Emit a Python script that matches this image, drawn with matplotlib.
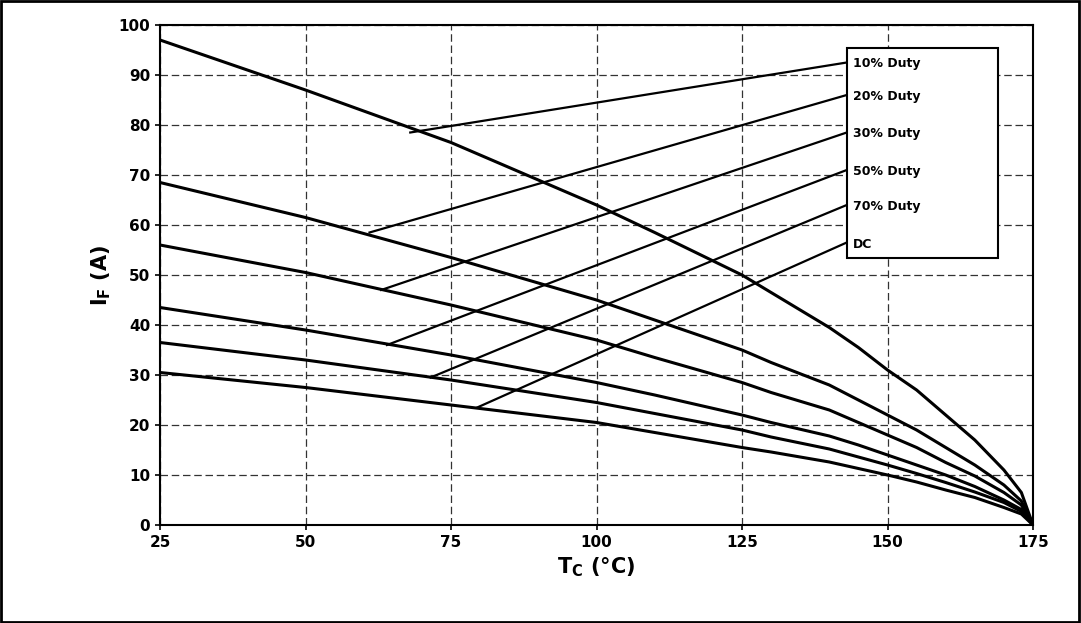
import matplotlib.pyplot as plt
from matplotlib.patches import Rectangle

# ── Data ──────────────────────────────────────────────────
tc = [25, 50, 75, 100, 110, 125, 130, 140, 145, 150, 155, 160, 165, 170, 173, 175]
duty10 = [97, 87, 76.5, 64, 58.5, 50, 46.5, 39.5, 35.5, 31, 27, 22, 17, 11, 6.5, 0]
duty20 = [68.5, 61.5, 53.5, 45, 41, 35, 32.5, 28, 25, 22, 19, 15.5, 12, 8, 4.8, 0]
duty30 = [56, 50.5, 44, 37, 33.5, 28.5, 26.5, 23, 20.5, 18, 15.5, 12.5, 9.8, 6.5, 4, 0]
duty50 = [43.5, 39, 34, 28.5, 26, 22, 20.5, 17.8, 16, 14, 12, 10, 7.7, 5, 3.1, 0]
duty70 = [36.5, 33, 29, 24.5, 22.3, 19, 17.6, 15.2, 13.6, 12, 10.3, 8.5, 6.6, 4.5, 2.7, 0]
dc = [30.5, 27.5, 24, 20.5, 18.5, 15.5, 14.6, 12.6, 11.3, 10, 8.6, 7, 5.5, 3.5, 2.2, 0]
series = [duty10, duty20, duty30, duty50, duty70, dc]
labels = ["10% Duty", "20% Duty", "30% Duty", "50% Duty", "70% Duty", "DC"]

# leader lines: start on curve, end at legend label
lead_start = [(68, 78.5), (61, 58.5), (63, 47), (64, 36), (71.5, 29.5), (79.5, 23.5)]
lead_end = [(143, 92.5), (143, 86), (143, 78.5), (143, 71), (143, 64), (143, 56.5)]

fig = plt.figure(figsize=(10.81, 6.23), dpi=100)
ax = fig.add_axes([160 / 1081, 98 / 623, 873 / 1081, 500 / 623])

for y in series:
    ax.plot(tc, y, color="black", lw=2.2)
for (x0, y0), (x1, y1) in zip(lead_start, lead_end):
    ax.plot([x0, x1], [y0, y1], color="black", lw=1.6)

ax.set_xlim(25, 175)
ax.set_ylim(0, 100)
ax.set_xticks(range(25, 176, 25))
ax.set_yticks(range(0, 101, 10))
ax.grid(True, color="#333333", ls=(0, (6, 3)), lw=0.9)
for s in ax.spines.values():
    s.set_linewidth(1.5)
ax.tick_params(labelsize=11, width=1.2)
for t in ax.get_xticklabels() + ax.get_yticklabels():
    t.set_fontweight("bold")

ax.set_xlabel(r"T$_\mathbf{C}$ (°C)", fontsize=15, fontweight="bold")
ax.set_ylabel(r"I$_\mathbf{F}$ (A)", fontsize=15, fontweight="bold")

# legend-style box
ax.add_patch(Rectangle((143, 53.5), 26, 42, transform=ax.transData,
                       facecolor="white", edgecolor="black", lw=1.5, zorder=5))
for lab, (x1, y1) in zip(labels, lead_end):
    ax.text(x1 + 1, y1 - 0.3, lab, fontsize=9, fontweight="bold", va="center",
            zorder=6)

fig.patches.append(Rectangle((0.001, 0.002), 0.997, 0.996, transform=fig.transFigure,
                             fill=False, edgecolor="black", lw=2))
fig.savefig("out.png", dpi=100)
